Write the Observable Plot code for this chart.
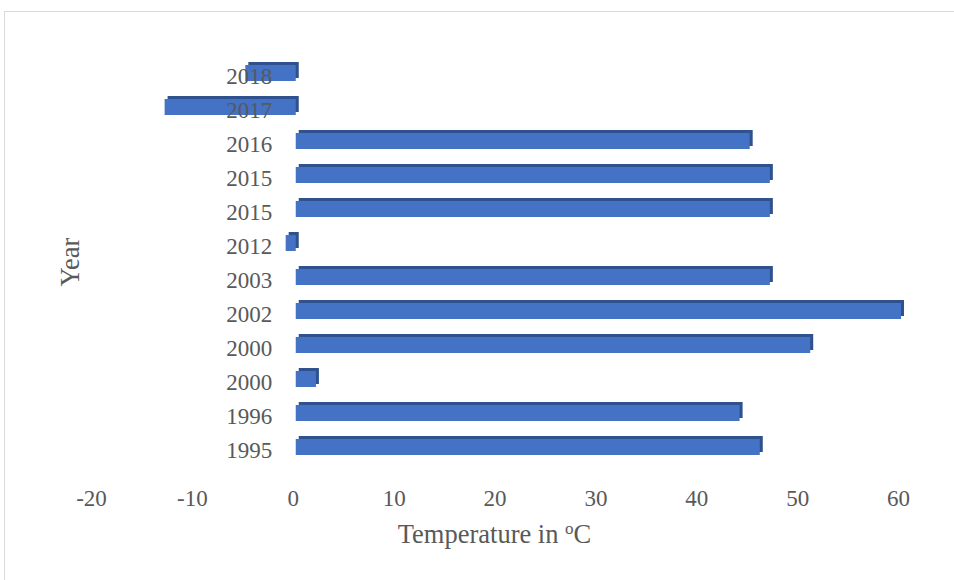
<!DOCTYPE html>
<html>
<head>
<meta charset="utf-8">
<script src="https://cdn.jsdelivr.net/npm/d3@7"></script>
<script src="https://cdn.jsdelivr.net/npm/@observablehq/plot@0.6"></script>
<style>
  html, body { margin: 0; padding: 0; background: #fff; }
</style>
</head>
<body>
<div id="chart"></div>
<script>
// Data (bottom to top, as in the reference)
const years = ["1995", "1996", "2000", "2000", "2002", "2003", "2012", "2015", "2015", "2016", "2017", "2018"];
const temps = [46, 44, 2, 51, 60, 47, -1, 47, 47, 45, -13, -5];
const xTicks = [-20, -10, 0, 10, 20, 30, 40, 50, 60];
const xTitle = "Temperature in ";
const yTitle = "Year";

const data = years.map((year, i) => ({i, year, temp: temps[i]}));
const order = data.map(d => d.i).reverse();

const textColor = "#595959";
const fontSize = 23;
const titleSize = 26.5;

const svg = Plot.plot({
  width: 954,
  height: 580,
  marginLeft: 91,
  marginRight: 56,
  marginTop: 45,
  marginBottom: 106,
  style: {fontFamily: "'Liberation Serif', 'Times New Roman', serif", color: textColor, background: "#fff"},
  x: {domain: [-20, 60]},
  y: {domain: order, paddingInner: 0.536, paddingOuter: 0.5, axis: null},
  marks: [
    Plot.axisX({ticks: xTicks, tickSize: 0, tickPadding: 15, fontSize, label: null, tickFormat: d => String(d).replace("−", "-")}),
    // 3D depth (top and side faces)
    Plot.barX(data, {x1: 0, x2: "temp", y: "i", fill: "#2F528F", dx: 6, dy: -3}),
    // front face
    Plot.barX(data, {x1: 0, x2: "temp", y: "i", fill: "#4472C4", dx: 3}),
    // category labels
    Plot.text(data, {x: 0, y: "i", text: "year", textAnchor: "end", dx: -21, dy: 3, fontSize, fill: textColor})
  ]
});

const s = d3.select(svg);
s.insert("rect", ":first-child")
  .attr("x", 4.5).attr("y", 11.5).attr("width", 1000).attr("height", 1000)
  .attr("fill", "none").attr("stroke", "#d9d9d9");

s.append("text")
  .attr("transform", "translate(79,262) rotate(-90)")
  .attr("text-anchor", "middle")
  .attr("font-size", titleSize)
  .attr("fill", textColor)
  .text(yTitle);

const t = s.append("text")
  .attr("x", 91 + (954 - 91 - 56) / 2)
  .attr("y", 543)
  .attr("text-anchor", "middle")
  .attr("font-size", titleSize)
  .attr("fill", textColor);
t.append("tspan").text(xTitle);
t.append("tspan").attr("dy", -9).attr("font-size", 17).text("o");
t.append("tspan").attr("dy", 9).text("C");

document.getElementById("chart").appendChild(svg);
</script>
</body>
</html>
